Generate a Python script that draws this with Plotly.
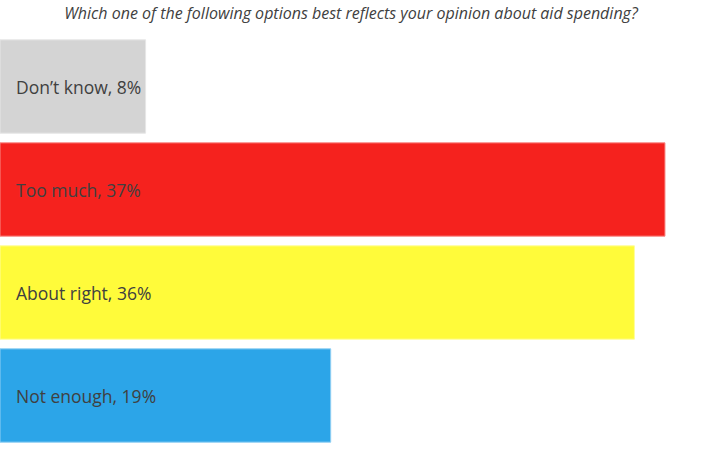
import plotly.graph_objects as go

categories = ["Not enough", "About right", "Too much", "Don\u2019t know"]
percent_labels = [19, 36, 37, 8]
bar_lengths = [18.4, 35.3, 37.0, 8.1]
colors = ["#2ca5e8", "#fffb3a", "#f5221e", "#d4d4d4"]
outline = ["#8fcff3", "#fffd9a", "#f98a86", "#e6e6e6"]
title_text = "Which one of the following options best reflects your opinion about aid spending?"

fig = go.Figure(go.Bar(
    y=categories, x=bar_lengths, orientation="h",
    marker=dict(color=colors, line=dict(color=outline, width=1)),
    hoverinfo="skip", width=0.906,
))

for cat, p in zip(categories, percent_labels):
    fig.add_annotation(x=0, y=cat, xref="x", yref="y", text=f"{cat}, {p}%",
                       showarrow=False, xanchor="left", xshift=14,
                       font=dict(family="Open Sans", size=17.5, color="#404040"))

fig.update_layout(
    width=702, height=455,
    margin=dict(l=0, r=0, t=35, b=8),
    paper_bgcolor="white", plot_bgcolor="white",
    showlegend=False,
    title=dict(text=f"<i>{title_text}</i>", x=0.5, xanchor="center", y=1 - 13/455, yanchor="middle",
               font=dict(family="Open Sans", size=16, color="#404040")),
    xaxis=dict(range=[0, 39.06], visible=False, fixedrange=True),
    yaxis=dict(visible=False, range=[-0.5, 3.5], fixedrange=True),
)

fig.write_html("out.html")
